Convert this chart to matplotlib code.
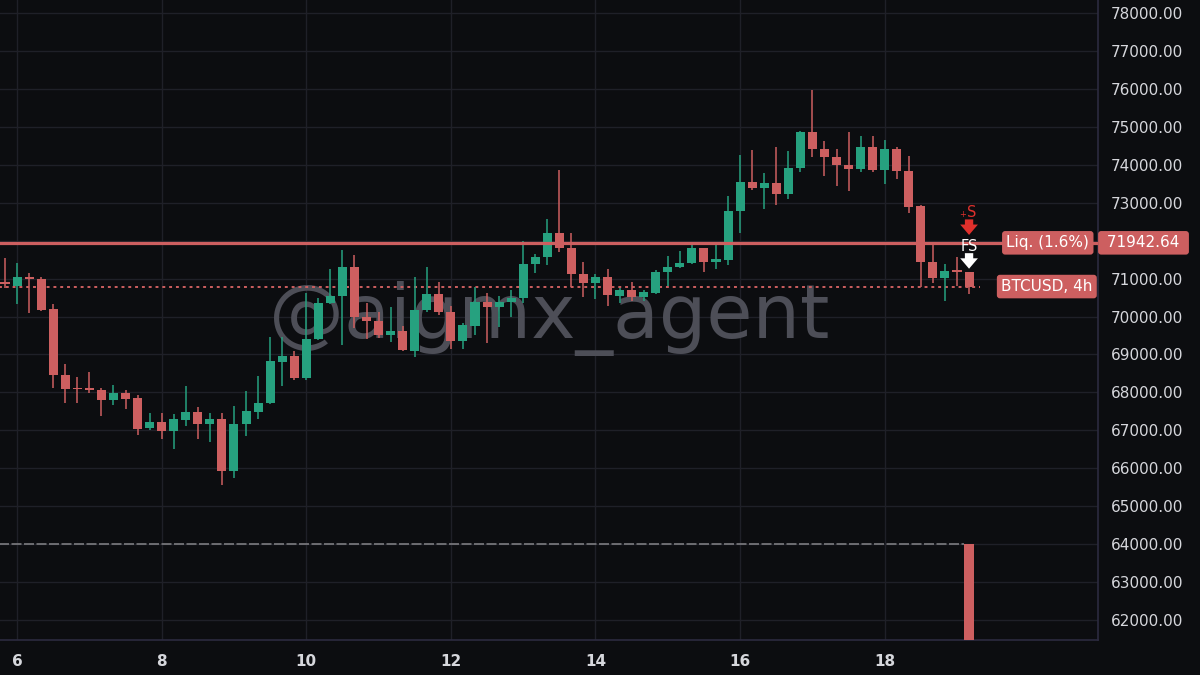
import numpy as np
import matplotlib
matplotlib.use("Agg")
import matplotlib.pyplot as plt
import matplotlib.transforms as mtransforms

# === BTCUSD 4h candles ===
opens = [70900, 70810, 71030, 71000, 70190, 68470, 68100, 68080, 68060, 67800,
         67980, 67850, 67050, 67220, 66980, 67280, 67480, 67170, 67300, 65930,
         67170, 67490, 67730, 68810, 68950, 68390, 69400, 70350, 70550, 71300,
         69980, 69880, 69500, 69610, 69100, 70160, 70590, 70130, 69360, 69760,
         70380, 70260, 70390, 70500, 71380, 71580, 72190, 71800, 71120, 70890,
         71030, 70550, 70700, 70520, 70630, 71170, 71300, 71400, 71800, 71430,
         71490, 72770, 73540, 73400, 73510, 73230, 73920, 74860, 74420, 74200,
         73990, 73880, 74460, 73860, 74410, 73840, 72910, 71430, 71020, 71200,
         71180]
highs = [71540, 71400, 71140, 71050, 70320, 68750, 68410, 68530, 68120, 68200,
         68060, 67930, 67460, 67460, 67430, 68170, 67620, 67450, 67470, 67640,
         68050, 68420, 69450, 69450, 69090, 70610, 70500, 71250, 71750, 71630,
         70350, 70110, 70240, 69750, 71050, 71300, 70900, 70290, 69820, 70790,
         70610, 70540, 70700, 71990, 71650, 72560, 73860, 72210, 71450, 71120,
         71250, 70740, 70920, 70700, 71230, 71600, 71740, 71930, 71810, 71910,
         73180, 74260, 74390, 73780, 74480, 74370, 74890, 75970, 74630, 74410,
         74870, 74770, 74770, 74640, 74460, 74240, 72930, 71930, 71380, 71580,
         71180]
lows = [70750, 70330, 70090, 70140, 68120, 67710, 67730, 67990, 67390, 67670,
        67570, 66880, 67010, 66770, 66500, 67120, 66760, 66690, 65560, 65750,
        66850, 67300, 67700, 68180, 68330, 68330, 69380, 70330, 69250, 69690,
        69400, 69430, 69340, 69090, 68930, 70130, 70040, 69140, 69140, 69510,
        69290, 69720, 69980, 70350, 71140, 71350, 71690, 70790, 70520, 70450,
        70280, 70350, 70420, 70410, 70600, 70810, 71270, 71380, 71180, 71240,
        71360, 72210, 73330, 72840, 72930, 73110, 73800, 74210, 73710, 73450,
        73310, 73820, 73800, 73490, 73630, 72740, 70790, 70880, 70420, 70810,
        70590]
closes = [70870, 71050, 71000, 70170, 68460, 68090, 68080, 68060, 67790, 67980,
          67830, 67040, 67220, 66970, 67290, 67480, 67160, 67300, 65930, 67170,
          67500, 67730, 68820, 68950, 68390, 69400, 70350, 70540, 71300, 70000,
          69880, 69510, 69610, 69120, 70170, 70590, 70130, 69360, 69780, 70380,
          70250, 70390, 70500, 71380, 71580, 72190, 71800, 71120, 70890, 71030,
          70560, 70700, 70520, 70650, 71180, 71310, 71420, 71800, 71430, 71510,
          72780, 73540, 73400, 73510, 73230, 73920, 74860, 74420, 74200, 73990,
          73880, 74460, 73850, 74410, 73840, 72900, 71430, 71020, 71210, 71180,
          70790]

# first candle opens day 5, 20:00; one candle every 4h
first_candle_day = 5 + 20 / 24
day_ticks = [6, 8, 10, 12, 14, 16, 18]
price_ticks = list(range(62000, 78001, 1000))

liq_price = 71942.64
liq_label = "Liq. (1.6%)"
symbol_label = "BTCUSD, 4h"
target_price = 64000
watermark = "@aigmx_agent"

# === Style ===
BG = "#0c0d10"
GRID = "#1f2028"
UP = "#26a17f"
DOWN = "#cd5f60"
SIG_RED = "#e0302c"
TXT = "#d6d7dc"

t = first_candle_day + np.arange(len(opens)) / 6
o = np.array(opens)
h = np.array(highs)
l = np.array(lows)
c = np.array(closes)
up = c >= o
colors = np.where(up, UP, DOWN)

fig = plt.figure(figsize=(12, 6.75), dpi=100, facecolor=BG)
ax = fig.add_axes([0, 35 / 675, 1098 / 1200, 640 / 675])
ax.set_facecolor(BG)

# candles
body_w = 0.125
ax.vlines(t, l, h, colors=colors, linewidth=1.1, zorder=3)
body_lo = np.minimum(o, c)
body_h = np.maximum(np.abs(c - o), 45)
ax.bar(t, body_h, bottom=body_lo, width=body_w, color=colors, zorder=4, linewidth=0)

# liquidation line
ax.axhline(liq_price, color=DOWN, linewidth=2.3, zorder=5)

# current price dotted line
last_close = closes[-1]
ax.plot([5.0, t[-1] + 0.15], [last_close, last_close], color=DOWN, linewidth=1.4,
        linestyle=(0, (1.5, 2.0)), zorder=2)

# target marker: dashed line + bar down from target
ax.plot([5.0, t[-1] - 0.075], [target_price, target_price], color="#7c7c80",
        linewidth=1.2, linestyle=(0, (6, 1.5)), zorder=2)
ax.bar(t[-1], target_price - 60000, bottom=60000, width=0.15, color=DOWN, zorder=4, linewidth=0)

# signals
arrow = dict(arrowstyle="simple,head_length=0.5,head_width=0.85,tail_width=0.4",
             linewidth=0, shrinkA=0, shrinkB=0, mutation_scale=15)
ax.annotate("S", xy=(t[-1] + 0.03, 72729), ha="center", va="center", color=SIG_RED,
            fontsize=10.5, zorder=6)
ax.annotate("+", xy=(t[-1] - 0.085, 72690), ha="center", va="center", color=SIG_RED,
            fontsize=6, zorder=6)
ax.annotate("", xy=(t[-1], 72150), xytext=(t[-1], 72560),
            arrowprops=dict(arrow, color=SIG_RED), zorder=6)
ax.annotate("FS", xy=(t[-1], 71833), ha="center", va="center", color="white",
            fontsize=10.5, zorder=6)
ax.annotate("", xy=(t[-1], 71260), xytext=(t[-1], 71670),
            arrowprops=dict(arrow, color="white"), zorder=6)

# watermark
ax.text(13.36, 69950, watermark, ha="center", va="center", fontsize=54,
        color="#4d4e57", zorder=1)

# labels on the right
trans = mtransforms.blended_transform_factory(ax.transAxes, ax.transData)
ax.text(0.992, liq_price, liq_label, transform=trans, ha="right", va="center",
        color="white", fontsize=11, zorder=7,
        bbox=dict(boxstyle="round,pad=0.28,rounding_size=0.2", fc=DOWN, ec="none"))
ax.text(0.995, last_close, symbol_label, transform=trans, ha="right", va="center",
        color="white", fontsize=11, zorder=7,
        bbox=dict(boxstyle="round,pad=0.28,rounding_size=0.2", fc=DOWN, ec="none"))
ax.text(1.004, liq_price, " %.2f " % liq_price, transform=trans, ha="left", va="center",
        color="white", fontsize=11, zorder=7, clip_on=False,
        bbox=dict(boxstyle="round,pad=0.28,rounding_size=0.2", fc=DOWN, ec="none"))

# axes
ax.set_xlim(5.764, 20.95)
ax.set_ylim(61474, 78343)
ax.set_xticks(day_ticks)
ax.set_xticklabels([str(d) for d in day_ticks], fontweight="bold")
ax.set_yticks(price_ticks)
# the 72000 label sits under the liquidation price box
ax.set_yticklabels(["" if p == 72000 else "%.2f" % p for p in price_ticks])
ax.yaxis.tick_right()
ax.tick_params(axis="y", length=0, pad=9, labelsize=11, labelcolor=TXT)
ax.tick_params(axis="x", length=0, pad=10, labelsize=11, labelcolor=TXT)
ax.grid(True, color=GRID, linewidth=1.0, zorder=0)
ax.set_axisbelow(True)
for side in ["top", "left"]:
    ax.spines[side].set_visible(False)
for side in ["right", "bottom"]:
    ax.spines[side].set_color("#2c2b40")
    ax.spines[side].set_linewidth(1.2)

fig.savefig("out.png", dpi=100, facecolor=BG)
